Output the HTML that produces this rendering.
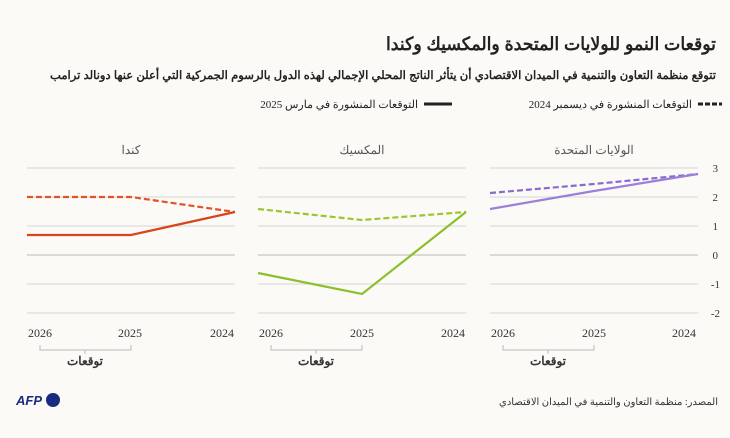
<!DOCTYPE html>
<html><head><meta charset="utf-8"><style>
body{margin:0;background:#fbfaf7;}
svg{display:block;font-family:"Liberation Serif","Noto Serif CJK SC","Noto Sans CJK SC",serif;}
.a{font-family:"Liberation Sans","Noto Sans CJK SC",sans-serif;}
</style></head><body>
<svg width="730" height="438" viewBox="0 0 730 438">
<rect width="730" height="438" fill="#fbfaf7"/>
<text x="716" y="50" text-anchor="start" class="a" font-size="18" font-weight="bold" fill="#222" direction="rtl" textLength="330" lengthAdjust="spacingAndGlyphs">توقعات النمو للولايات المتحدة والمكسيك وكندا</text>
<text x="716" y="79" text-anchor="start" class="a" font-size="11.5" font-weight="bold" fill="#222" direction="rtl" textLength="666" lengthAdjust="spacingAndGlyphs">تتوقع منظمة التعاون والتنمية في الميدان الاقتصادي أن يتأثر الناتج المحلي الإجمالي لهذه الدول بالرسوم الجمركية التي أعلن عنها دونالد ترامب</text>
<line x1="698" y1="104" x2="722" y2="104" stroke="#222" stroke-width="3" stroke-dasharray="5,2"/>
<text x="692" y="108" text-anchor="start" font-size="11" fill="#222" direction="rtl">التوقعات المنشورة في ديسمبر 2024</text>
<line x1="424" y1="104" x2="452" y2="104" stroke="#222" stroke-width="3"/>
<text x="418" y="108" text-anchor="start" font-size="11" fill="#222" direction="rtl">التوقعات المنشورة في مارس 2025</text>
<g font-size="12" fill="#555" text-anchor="middle" class="a">
<text x="131" y="154">كندا</text><text x="362" y="154">المكسيك</text><text x="594" y="154">الولايات المتحدة</text></g>
<g stroke="#d6d6d6" stroke-width="1">
<line x1="27" y1="168" x2="235" y2="168"/><line x1="258" y1="168" x2="466" y2="168"/><line x1="490" y1="168" x2="698" y2="168"/>
<line x1="27" y1="197" x2="235" y2="197"/><line x1="258" y1="197" x2="466" y2="197"/><line x1="490" y1="197" x2="698" y2="197"/>
<line x1="27" y1="226" x2="235" y2="226"/><line x1="258" y1="226" x2="466" y2="226"/><line x1="490" y1="226" x2="698" y2="226"/>
<line x1="27" y1="255" x2="235" y2="255" stroke="#bbb"/><line x1="258" y1="255" x2="466" y2="255" stroke="#bbb"/><line x1="490" y1="255" x2="698" y2="255" stroke="#bbb"/>
<line x1="27" y1="284" x2="235" y2="284"/><line x1="258" y1="284" x2="466" y2="284"/><line x1="490" y1="284" x2="698" y2="284"/>
<line x1="27" y1="313" x2="235" y2="313"/><line x1="258" y1="313" x2="466" y2="313"/><line x1="490" y1="313" x2="698" y2="313"/>
</g>
<g font-size="11" fill="#333" text-anchor="end"><text x="718" y="172">3</text><text x="718" y="201">2</text><text x="718" y="230">1</text><text x="718" y="259">0</text><text x="720" y="288">-1</text><text x="720" y="317">-2</text></g>
<g fill="none" stroke-width="2.2">
<polyline points="27,197 131,197 235,212" stroke="#e2532a" stroke-dasharray="6,3"/>
<polyline points="27,235 131,235 235,212" stroke="#d9441c"/>
<polyline points="258,209 362,220 466,212" stroke="#9cc531" stroke-dasharray="6,3"/>
<polyline points="258,273 362,294 466,212" stroke="#8cc02b"/>
<polyline points="490,193 594,184 698,174" stroke="#8a6ad0" stroke-dasharray="6,3"/>
<polyline points="490,209 594,191 698,174" stroke="#9b7fd8"/>
</g>
<g font-size="12" fill="#333" text-anchor="middle">
<text x="40" y="337">2026</text><text x="130" y="337">2025</text><text x="222" y="337">2024</text>
<text x="271" y="337">2026</text><text x="362" y="337">2025</text><text x="453" y="337">2024</text>
<text x="503" y="337">2026</text><text x="594" y="337">2025</text><text x="684" y="337">2024</text>
</g>
<g stroke="#bbb" fill="none"><polyline points="40,345 40,350 131,350 131,345"/><polyline points="271,345 271,350 362,350 362,345"/><polyline points="503,345 503,350 594,350 594,345"/>
<line x1="85" y1="350" x2="85" y2="354"/><line x1="316" y1="350" x2="316" y2="354"/><line x1="548" y1="350" x2="548" y2="354"/></g>
<g font-size="12" font-weight="bold" fill="#333" text-anchor="middle" class="a"><text x="85" y="365">توقعات</text><text x="316" y="365">توقعات</text><text x="548" y="365">توقعات</text></g>
<text x="16" y="405" class="a" font-size="13" font-weight="bold" font-style="italic" fill="#1a2a80">AFP</text>
<circle cx="53" cy="400" r="7" fill="#1a2a80"/>
<text x="718" y="405" text-anchor="start" font-size="10" fill="#333" direction="rtl">المصدر: منظمة التعاون والتنمية في الميدان الاقتصادي</text>
</svg>
</body></html>
